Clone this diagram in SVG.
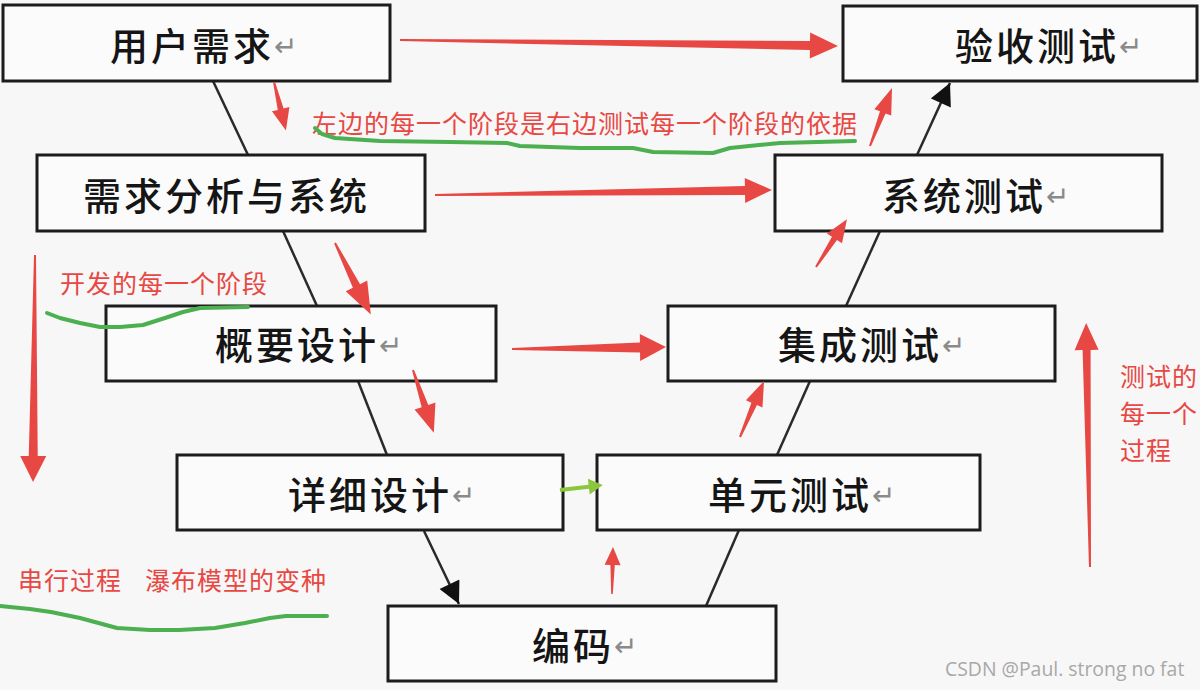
<svg xmlns="http://www.w3.org/2000/svg" width="1200" height="690" viewBox="0 0 1200 690">
<defs>
<style>
.box{fill:#fbfbfb;stroke:#1c1c1c;stroke-width:3}
.lbl{font-family:"Noto Sans CJK SC","Noto Sans",sans-serif;font-size:38px;font-weight:500;letter-spacing:3px;fill:#151515}
.ret{font-family:"DejaVu Sans",sans-serif;font-size:28px;font-weight:normal;fill:#8a8a8a;letter-spacing:0}
.note{font-family:"Noto Sans CJK SC","Noto Sans",sans-serif;font-size:25px;letter-spacing:1px;fill:#e84844}
.ra{fill:#e84844}
.ga{fill:#8cc63f}
.wave{fill:none;stroke:#4caf50;stroke-width:4;stroke-linejoin:round;stroke-linecap:round}
.conn{stroke:#2a2a2a;stroke-width:2.5;fill:none}
</style>
<marker id="blk" viewBox="0 0 10 10" refX="10" refY="5" markerWidth="24" markerHeight="22" markerUnits="userSpaceOnUse" orient="auto">
<path d="M0,0 L10,5 L0,10 z" fill="#111"/>
</marker>
</defs>
<rect x="0" y="0" width="1200" height="690" fill="#f7f7f7"/>

<g id="connectors">
<line class="conn" x1="213" y1="81" x2="248" y2="155"/>
<line class="conn" x1="283" y1="231" x2="317" y2="306"/>
<line class="conn" x1="358" y1="381" x2="387" y2="455"/>
<line class="conn" x1="424" y1="531" x2="459" y2="604" marker-end="url(#blk)"/>
<line class="conn" x1="706" y1="606" x2="739" y2="530"/>
<line class="conn" x1="777" y1="455" x2="810" y2="381"/>
<line class="conn" x1="846" y1="306" x2="880" y2="231"/>
<line class="conn" x1="917" y1="155" x2="950" y2="83" marker-end="url(#blk)"/>
</g>

<g id="node-yonghu">
<rect class="box" x="3" y="5" width="387" height="76"/>
<text class="lbl" x="110" y="60">用户需求<tspan class="ret" dy="-4">↵</tspan></text>
</g>
<g id="node-yanshou">
<rect class="box" x="843" y="6" width="354" height="75"/>
<text class="lbl" x="955" y="60">验收测试<tspan class="ret" dy="-4">↵</tspan></text>
</g>
<g id="node-xuqiu">
<rect class="box" x="37" y="155" width="388" height="76"/>
<text class="lbl" x="83" y="210">需求分析与系统</text>
</g>
<g id="node-xitong">
<rect class="box" x="775" y="155" width="387" height="76"/>
<text class="lbl" x="882" y="210">系统测试<tspan class="ret" dy="-4">↵</tspan></text>
</g>
<g id="node-gaiyao">
<rect class="box" x="106" y="306" width="390" height="75"/>
<text class="lbl" x="215" y="359">概要设计<tspan class="ret" dy="-4">↵</tspan></text>
</g>
<g id="node-jicheng">
<rect class="box" x="668" y="306" width="387" height="75"/>
<text class="lbl" x="778" y="359">集成测试<tspan class="ret" dy="-4">↵</tspan></text>
</g>
<g id="node-xiangxi">
<rect class="box" x="177" y="455" width="386" height="75"/>
<text class="lbl" x="288" y="509">详细设计<tspan class="ret" dy="-4">↵</tspan></text>
</g>
<g id="node-danyuan">
<rect class="box" x="597" y="455" width="383" height="75"/>
<text class="lbl" x="708" y="509">单元测试<tspan class="ret" dy="-4">↵</tspan></text>
</g>
<g id="node-bianma">
<rect class="box" x="388" y="606" width="388" height="75"/>
<text class="lbl" x="532" y="660">编码<tspan class="ret" dy="-4">↵</tspan></text>
</g>

<g id="annotations">
<polygon class="ra" transform="translate(400,40) rotate(0.78)" points="0,-1 410,-4.5 410,-13 438,0 410,13 410,4.5 0,1"/>
<polygon class="ra" transform="translate(274,82) rotate(76.2)" points="0,-1 28,-3 28,-9 50,0 28,9 28,3 0,1"/>
<polygon class="ra" transform="translate(870,146) rotate(-69.2)" points="0,-1 36,-3 36,-9 62,0 36,9 36,3 0,1"/>
<polygon class="ra" transform="translate(435,195) rotate(-0.85)" points="0,-1 310,-4.5 310,-12.5 337,0 310,12.5 310,4.5 0,1"/>
<polygon class="ra" transform="translate(335,243) rotate(63.4)" points="0,-1 48,-4 48,-12 80,0 48,12 48,4 0,1"/>
<polygon class="ra" transform="translate(816,267) rotate(-57.1)" points="0,-1 34,-3 34,-9 57,0 34,9 34,3 0,1"/>
<polygon class="ra" transform="translate(512,349) rotate(-0.7)" points="0,-1 128,-5 128,-13.5 154,0 128,13.5 128,5 0,1"/>
<polygon class="ra" transform="translate(413,370) rotate(71.6)" points="0,-1 38,-3.5 38,-11 66,0 38,11 38,3.5 0,1"/>
<polygon class="ra" transform="translate(740,437) rotate(-66.8)" points="0,-1 36,-3 36,-9 61,0 36,9 36,3 0,1"/>
<polygon class="ra" transform="translate(612,594) rotate(-88.8)" points="0,-0.8 29,-2.2 29,-8 47,0 29,8 29,2.2 0,0.8"/>
<polygon class="ra" transform="translate(35,255) rotate(90.5)" points="0,-1 201,-4.5 201,-13 227,0 201,13 201,4.5 0,1"/>
<polygon class="ra" transform="translate(1090,567) rotate(-90.9)" points="0,-1 217,-4 217,-12 244,0 217,12 217,4 0,1"/>
<polygon class="ga" transform="translate(560,490) rotate(-6.6)" points="0,-2 29,-2 29,-8 43,0 29,8 29,2 0,2"/>

<text class="note" x="312" y="133">左边的每一个阶段是右边测试每一个阶段的依据</text>
<text class="note" x="60" y="293">开发的每一个阶段</text>
<text class="note" x="1120" y="386">测试的</text>
<text class="note" x="1120" y="423">每一个</text>
<text class="note" x="1120" y="460">过程</text>
<text class="note" x="18" y="590">串行过程<tspan x="145">瀑布模型的变种</tspan></text>

<polyline class="wave" points="315,128 322,134 335,138 380,141 450,142 507,143 520,146 580,148 633,148 653,152 713,153 730,148 780,143 855,141"/>
<polyline class="wave" points="47,313 60,318 80,323 100,327 120,327 143,325 165,318 183,312 200,308 248,307"/>
<polyline class="wave" points="0,606 30,609 51,612 80,618 117,628 150,630 179,630 215,628 245,623 270,618 286,616 327,616"/>

<text x="945" y="676" font-family="'Open Sans','Noto Sans',sans-serif" font-size="19.4" fill="#a8a8a8">CSDN @Paul. strong no fat</text>
</g>
</svg>
